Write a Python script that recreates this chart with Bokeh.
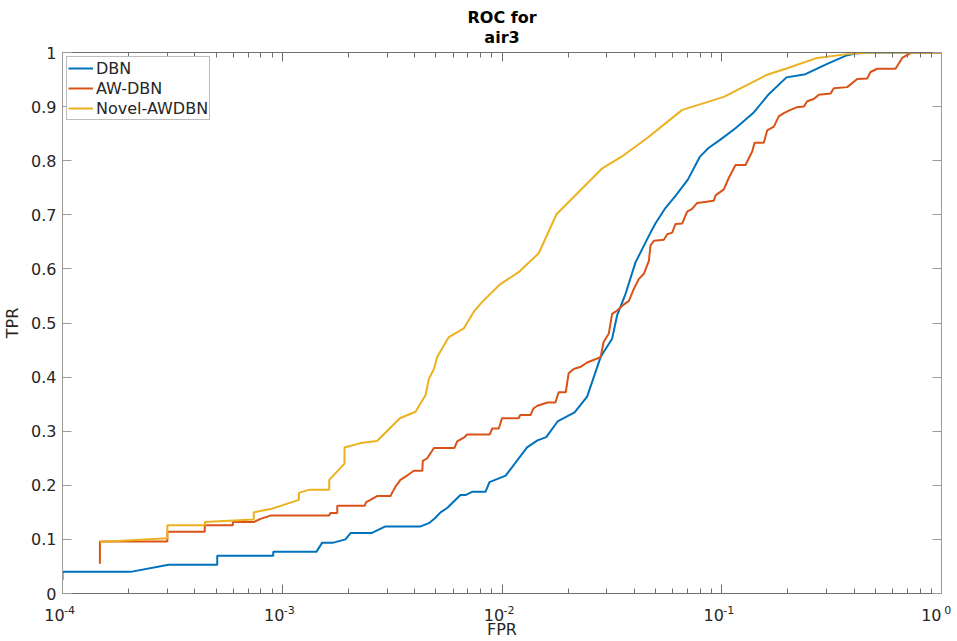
import math
from bokeh.plotting import figure
from bokeh.models import (Range1d, FixedTicker, LogAxis, LinearAxis, Title,
                          CustomJSTickFormatter)
from bokeh.embed import file_html
from bokeh.resources import INLINE

# ---------------- data ----------------
dbn_fpr = [1e-4, 1e-4, 2.04e-4, 3.04e-4, 5.06e-4, 5.06e-4, 9.1e-4, 9.1e-4, 1.43e-3, 1.52e-3,
           1.71e-3, 1.94e-3, 2.05e-3, 2.56e-3, 2.95e-3, 4.26e-3, 4.65e-3, 4.98e-3, 5.25e-3, 5.63e-3,
           6.47e-3, 6.82e-3, 7.31e-3, 8.41e-3, 8.77e-3, 1.04e-2, 1.30e-2, 1.45e-2, 1.59e-2, 1.79e-2,
           2.14e-2, 2.44e-2, 2.81e-2, 3.17e-2, 3.34e-2, 3.65e-2, 4.05e-2, 4.35e-2, 4.74e-2, 4.99e-2,
           5.55e-2, 6.16e-2, 7.01e-2, 7.94e-2, 8.73e-2, 9.86e-2, 0.1155, 0.139, 0.1637, 0.197,
           0.2404, 0.302, 0.3724, 0.406, 0.459, 1.0]
dbn_tpr = [0.025, 0.040, 0.040, 0.053, 0.053, 0.070, 0.070, 0.077, 0.077, 0.094,
           0.094, 0.100, 0.112, 0.112, 0.124, 0.124, 0.130, 0.140, 0.150, 0.158,
           0.182, 0.182, 0.188, 0.188, 0.206, 0.218, 0.270, 0.283, 0.289, 0.318,
           0.335, 0.364, 0.437, 0.471, 0.514, 0.554, 0.612, 0.637, 0.667, 0.684,
           0.713, 0.735, 0.765, 0.807, 0.824, 0.839, 0.860, 0.888, 0.923, 0.954,
           0.960, 0.979, 0.995, 0.998, 1.0, 1.0]

awdbn_fpr = [1.48e-4, 1.48e-4, 3.0e-4, 3.0e-4, 4.44e-4, 4.44e-4, 5.96e-4, 5.96e-4, 7.42e-4, 7.96e-4,
             8.84e-4, 1.63e-3, 1.66e-3, 1.78e-3, 1.78e-3, 2.37e-3, 2.41e-3, 2.52e-3, 2.70e-3, 3.11e-3,
             3.16e-3, 3.27e-3, 3.45e-3, 3.70e-3, 3.97e-3, 4.34e-3, 4.36e-3, 4.57e-3, 4.90e-3, 6.08e-3,
             6.25e-3, 6.70e-3, 6.94e-3, 8.80e-3, 9.03e-3, 9.67e-3, 1.0e-2, 1.19e-2, 1.21e-2, 1.35e-2,
             1.39e-2, 1.45e-2, 1.61e-2, 1.75e-2, 1.81e-2, 1.95e-2, 2.01e-2, 2.12e-2, 2.28e-2, 2.44e-2,
             2.66e-2, 2.81e-2, 2.90e-2, 3.06e-2, 3.17e-2, 3.34e-2, 3.58e-2, 3.78e-2, 3.98e-2, 4.19e-2,
             4.42e-2, 4.66e-2, 4.74e-2, 4.91e-2, 5.45e-2, 5.65e-2, 5.95e-2, 6.16e-2, 6.61e-2, 6.96e-2,
             7.33e-2, 7.73e-2, 9.20e-2, 9.37e-2, 0.1022, 0.1076, 0.1155, 0.1283, 0.1376, 0.141,
             0.1553, 0.161, 0.1726, 0.1818, 0.1916, 0.2056, 0.2203, 0.2362, 0.2449, 0.2624,
             0.2765, 0.3126, 0.3236, 0.3724, 0.4134, 0.459, 0.4753, 0.5097, 0.6176, 0.6622,
             0.7096, 0.7356, 1.0]
awdbn_tpr = [0.055, 0.096, 0.096, 0.114, 0.114, 0.126, 0.126, 0.132, 0.132, 0.138,
             0.144, 0.144, 0.149, 0.149, 0.162, 0.162, 0.169, 0.173, 0.180, 0.180,
             0.186, 0.197, 0.210, 0.218, 0.227, 0.227, 0.245, 0.250, 0.269, 0.269,
             0.281, 0.288, 0.294, 0.294, 0.305, 0.305, 0.324, 0.324, 0.330, 0.330,
             0.342, 0.347, 0.353, 0.353, 0.372, 0.372, 0.407, 0.415, 0.419, 0.427,
             0.433, 0.437, 0.465, 0.480, 0.517, 0.523, 0.534, 0.541, 0.563, 0.581,
             0.591, 0.615, 0.643, 0.652, 0.654, 0.664, 0.667, 0.683, 0.684, 0.706,
             0.711, 0.722, 0.726, 0.736, 0.747, 0.768, 0.792, 0.792, 0.817, 0.833,
             0.833, 0.856, 0.863, 0.882, 0.888, 0.894, 0.899, 0.900, 0.910, 0.914,
             0.922, 0.924, 0.934, 0.936, 0.951, 0.952, 0.964, 0.970, 0.970, 0.990,
             0.997, 1.0, 1.0]

novel_fpr = [1.48e-4, 3.0e-4, 3.0e-4, 4.44e-4, 4.44e-4, 7.42e-4, 7.42e-4, 8.84e-4, 1.19e-3, 1.19e-3,
             1.334e-3, 1.636e-3, 1.636e-3, 1.92e-3, 1.92e-3, 2.27e-3, 2.70e-3, 3.43e-3, 4.04e-3, 4.49e-3,
             4.65e-3, 4.90e-3, 5.07e-3, 5.73e-3, 6.70e-3, 7.44e-3, 8.13e-3, 9.84e-3, 1.19e-2, 1.47e-2,
             1.77e-2, 2.86e-2, 3.58e-2, 4.58e-2, 6.61e-2, 0.1022, 0.161, 0.1986, 0.2716, 0.3724,
             0.472, 1.0]
novel_tpr = [0.095, 0.102, 0.126, 0.126, 0.132, 0.137, 0.150, 0.156, 0.173, 0.186,
             0.192, 0.192, 0.210, 0.240, 0.270, 0.278, 0.282, 0.324, 0.336, 0.367,
             0.397, 0.415, 0.437, 0.474, 0.490, 0.521, 0.539, 0.572, 0.594, 0.629,
             0.701, 0.786, 0.810, 0.842, 0.894, 0.918, 0.959, 0.971, 0.990, 0.997,
             1.0, 1.0]

series_names = ["DBN", "AW-DBN", "Novel-AWDBN"]
series_colors = ["#0072BD", "#D95319", "#EDB120"]

x_major_ticks = [1e-4, 1e-3, 1e-2, 1e-1, 1.0]
x_minor_ticks = [m * d for d in [1e-4, 1e-3, 1e-2, 1e-1] for m in range(2, 10)]
y_ticks = [0, 0.1, 0.2, 0.3, 0.4, 0.5, 0.6, 0.7, 0.8, 0.9, 1.0]

title_line1 = "ROC for"
title_line2 = "air3"
x_label = "FPR"
y_label = "TPR"

# ---------------- figure ----------------
FONT = "DejaVu Sans"
TXT = "#262626"
AX_DARK = "#6e6e6e"
AX_LIGHT = "#9a9a9a"

p = figure(width=957, height=641, x_axis_type="log",
           x_range=Range1d(1e-4, 1.0), y_range=Range1d(0, 1.0),
           output_backend="svg", toolbar_location=None, title=None,
           min_border_left=62, min_border_right=16, min_border_top=52, min_border_bottom=45)
p.grid.visible = False
p.outline_line_color = None
p.background_fill_color = "white"
p.border_fill_color = "white"

xt = FixedTicker(ticks=x_major_ticks, minor_ticks=x_minor_ticks)
yt = FixedTicker(ticks=y_ticks)


def style_axis(ax, color):
    ax.axis_line_color = color
    ax.major_tick_line_color = color
    ax.minor_tick_line_color = color
    ax.major_tick_in = 9
    ax.major_tick_out = 0
    ax.minor_tick_in = 5
    ax.minor_tick_out = 0
    ax.major_label_text_font = FONT
    ax.major_label_text_font_size = "16px"
    ax.major_label_text_color = TXT
    ax.axis_label_text_font = FONT
    ax.axis_label_text_font_size = "16px"
    ax.axis_label_text_font_style = "normal"
    ax.axis_label_text_color = TXT


# nearest bottom axis: the raised exponents (shifted right of the tick with figure spaces)
xa = p.xaxis[0]
xa.ticker = xt
xa.formatter = CustomJSTickFormatter(code=r"""
const e = String(Math.round(Math.log10(tick)));
const pad = e.length > 1 ? '\u2007\u2007' : '\u2007\u2002';
return pad + e;
""")
style_axis(xa, AX_DARK)
xa.major_label_text_font_size = "11px"
xa.major_label_standoff = 10

# second bottom axis (no line, no ticks): the "10" bases, shifted left of the tick, and the x label
xb = LogAxis(ticker=xt, formatter=CustomJSTickFormatter(code=r"return '10\u2002\u2002';"))
style_axis(xb, None)
xb.axis_line_color = None
xb.major_tick_line_color = None
xb.minor_tick_line_color = None
xb.major_label_standoff = -14
xb.axis_label = x_label
xb.axis_label_standoff = -8
p.add_layout(xb, "below")

ya = p.yaxis[0]
ya.ticker = yt
ya.formatter = CustomJSTickFormatter(code="return (Math.round(tick*10)/10).toString();")
style_axis(ya, AX_LIGHT)
ya.axis_label = y_label
ya.major_label_standoff = 6
ya.axis_label_standoff = 6

top = LogAxis(ticker=xt, formatter=CustomJSTickFormatter(code="return '';"))
style_axis(top, AX_DARK)
top.major_label_text_font_size = "0px"
top.major_label_standoff = 0
p.add_layout(top, "above")

right = LinearAxis(ticker=yt, formatter=CustomJSTickFormatter(code="return '';"))
style_axis(right, AX_LIGHT)
right.major_label_text_font_size = "0px"
right.major_label_standoff = 0
p.add_layout(right, "right")

p.add_layout(Title(text=title_line2, align="center", text_font=FONT, text_font_size="16px",
                   text_font_style="bold", text_color="black", standoff=11), "above")
p.add_layout(Title(text=title_line1, align="center", text_font=FONT, text_font_size="16px",
                   text_font_style="bold", text_color="black", standoff=-13), "above")

for xs, ys, name, col in zip([dbn_fpr, awdbn_fpr, novel_fpr],
                             [dbn_tpr, awdbn_tpr, novel_tpr],
                             series_names, series_colors):
    p.line(xs, ys, line_color=col, line_width=2, legend_label=name)

lg = p.legend[0]
lg.location = "top_left"
lg.margin = 4
lg.padding = 1
lg.spacing = 0
lg.label_height = 20
lg.glyph_height = 20
lg.glyph_width = 25
lg.label_standoff = 3
lg.label_text_font = FONT
lg.label_text_font_size = "16px"
lg.label_text_color = TXT
lg.border_line_color = "#7a7a7a"
lg.border_line_width = 1
lg.background_fill_color = "white"
lg.background_fill_alpha = 1.0

open("out.html", "w", encoding="utf-8").write(file_html(p, INLINE))
